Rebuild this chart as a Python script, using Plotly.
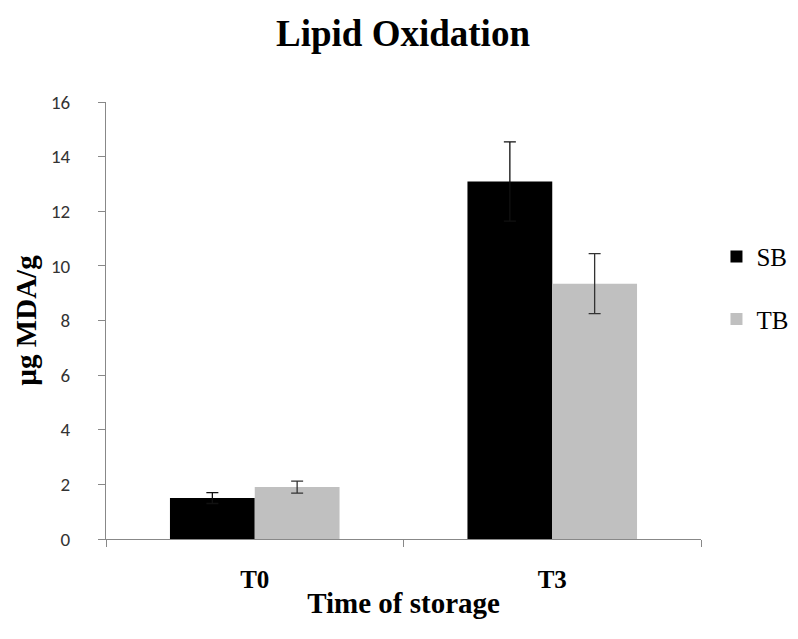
"""Lipid oxidation bar chart."""
import plotly.graph_objects as go

times = ["T0", "T3"]
sb_values = [1.5, 13.09]
sb_errors = [0.2, 1.45]
tb_values = [1.9, 9.35]
tb_errors = [0.22, 1.1]

serif = "Palatino Linotype, Book Antiqua, Liberation Serif, DejaVu Serif, serif"
sans = "Calibri, Carlito, Liberation Sans, Arial, sans-serif"

fig = go.Figure()
fig.add_trace(
    go.Bar(
        x=times,
        y=sb_values,
        name="SB",
        legendgroup="sb",
        marker={"color": "#000000", "line": {"width": 0}},
        error_y={"type": "data", "array": sb_errors, "color": "#111111", "thickness": 1.3, "width": 6},
    )
)
fig.add_trace(
    go.Bar(
        x=times,
        y=tb_values,
        name="TB",
        legendgroup="tb",
        marker={"color": "#c0c0c0", "line": {"width": 0}},
        error_y={"type": "data", "array": tb_errors, "color": "#333333", "thickness": 1.3, "width": 6},
    )
)

# page body has an 8px margin, so the figure is a bit smaller than the window
fig.update_layout(
    width=790,
    height=631,
    margin={"l": 98, "r": 97, "t": 94, "b": 100, "autoexpand": False},
    plot_bgcolor="#ffffff",
    paper_bgcolor="#ffffff",
    barmode="group",
    bargap=0.43,
    bargroupgap=0,
    title={
        "text": "<b>Lipid Oxidation</b>",
        "x": 0.5,
        "xref": "container",
        "xanchor": "center",
        "y": 0.96,
        "yref": "container",
        "yanchor": "middle",
        "font": {"family": serif, "size": 37, "color": "#000000"},
    },
    legend={
        "x": 1.026,
        "xanchor": "left",
        "y": 0.575,
        "yanchor": "middle",
        "font": {"family": serif, "size": 25, "color": "#000000"},
        "tracegroupgap": 27,
        "itemwidth": 30,
    },
    showlegend=True,
)
fig.update_xaxes(
    showline=True,
    linecolor="#888888",
    linewidth=1,
    ticks="outside",
    tickson="boundaries",
    ticklen=7,
    tickcolor="#888888",
    ticklabelstandoff=18,
    tickfont={"family": serif, "size": 25, "color": "#000000"},
    tickprefix="<b>",
    ticksuffix="</b>",
    title={
        "text": "<b>Time of storage</b>",
        "font": {"family": serif, "size": 29, "color": "#000000"},
        "standoff": 0,
    },
    showgrid=False,
)
fig.update_yaxes(
    range=[0, 16],
    dtick=2,
    showline=True,
    linecolor="#888888",
    linewidth=1,
    ticks="outside",
    ticklen=7,
    tickcolor="#888888",
    ticklabelstandoff=24,
    tickfont={"family": sans, "size": 19, "color": "#333333"},
    title={
        "text": "<b>µg MDA/g</b>",
        "font": {"family": serif, "size": 29, "color": "#000000"},
        "standoff": 5,
    },
    showgrid=False,
    zeroline=False,
)

fig.write_html("out.html")
